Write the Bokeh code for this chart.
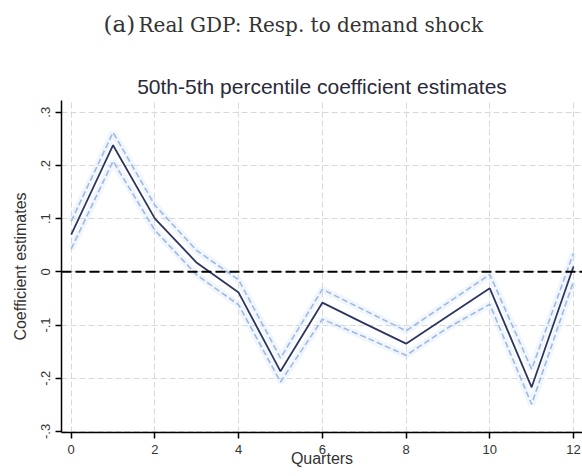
from bokeh.plotting import figure
from bokeh.layouts import column
from bokeh.models import Range1d, FixedTicker, Title, Span
from bokeh.core.properties import value
from bokeh.embed import file_html
from bokeh.resources import INLINE

quarters = list(range(13))
coef = [0.070, 0.238, 0.100, 0.017, -0.039, -0.187, -0.058, -0.097, -0.135, -0.083, -0.031, -0.217, 0.010]
upper = [0.095, 0.262, 0.125, 0.040, -0.015, -0.162, -0.033, -0.072, -0.111, -0.058, -0.005, -0.183, 0.035]
lower = [0.043, 0.208, 0.078, -0.006, -0.062, -0.207, -0.089, -0.122, -0.157, -0.105, -0.061, -0.249, -0.018]
y_ticks = [-0.3, -0.2, -0.1, 0.0, 0.1, 0.2, 0.3]
y_tick_labels = ["-.3", "-.2", "-.1", "0", ".1", ".2", ".3"]
x_ticks = [0, 2, 4, 6, 8, 10, 12]
caption_tag = "(a)"
caption_text = "Real GDP: Resp. to demand shock"

# --- caption strip (panel label); its frame is aligned with the graph frame ---
head = figure(width=582, height=45, output_backend="svg", toolbar_location=None,
              x_range=Range1d(61, 582), y_range=Range1d(0, 45),
              x_axis_type=None, y_axis_type=None,
              min_border_left=61, min_border_right=0,
              min_border_top=0, min_border_bottom=0)
head.outline_line_color = None
head.xgrid.visible = False
head.ygrid.visible = False
head.text(x=[103], y=[22], text=[caption_tag], text_align="left", text_baseline="middle",
          text_font=value("DejaVu Serif"), text_font_size="23px", text_color="#333333")
head.text(x=[138], y=[21], text=[caption_text], text_align="left", text_baseline="middle",
          text_font=value("DejaVu Serif"), text_font_size="20px", text_color="#333333")

# --- main graph ---
p = figure(width=582, height=431, output_backend="svg", toolbar_location=None,
           x_range=Range1d(-0.232, 12.215), y_range=Range1d(-0.302, 0.322),
           min_border_left=61, min_border_right=0, min_border_bottom=44, min_border_top=55)
p.background_fill_color = "white"
p.border_fill_color = "white"
p.outline_line_color = None

p.add_layout(Title(text="50th-5th percentile coefficient estimates", align="center",
                   text_font="Liberation Sans", text_font_size="21px",
                   text_font_style="normal", text_color="#2a2a3a", standoff=6), "above")

# grids
for g in (p.xgrid, p.ygrid):
    g.grid_line_color = "#d9d9d9"
    g.grid_line_dash = "6 3"
    g.grid_line_width = 1
p.xgrid.ticker = FixedTicker(ticks=x_ticks)
p.ygrid.ticker = FixedTicker(ticks=y_ticks)

# zero line
p.add_layout(Span(location=0, dimension="width", line_color="black",
                  line_width=2, line_dash="10 4"))

# bands with a faint glow
p.line(quarters, upper, line_color="#c4dcf7", line_width=7, line_alpha=0.25)
p.line(quarters, lower, line_color="#c4dcf7", line_width=7, line_alpha=0.25)
p.line(quarters, upper, line_color="#a3b8de", line_width=1.6, line_dash="6 3")
p.line(quarters, lower, line_color="#a3b8de", line_width=1.6, line_dash="6 3")
p.line(quarters, coef, line_color="#2d3660", line_width=1.8)

# axes
p.xaxis.ticker = FixedTicker(ticks=x_ticks)
p.yaxis.ticker = FixedTicker(ticks=y_ticks)
p.yaxis.major_label_overrides = {t: l for t, l in zip(y_ticks, y_tick_labels)}
p.yaxis.major_label_orientation = "vertical"
p.xaxis.axis_label = "Quarters"
p.yaxis.axis_label = "Coefficient estimates"
for ax in (p.xaxis[0], p.yaxis[0]):
    ax.axis_line_color = "black"
    ax.axis_line_width = 1.5
    ax.major_tick_line_color = "black"
    ax.major_tick_line_width = 1.5
    ax.major_tick_out = 6
    ax.major_tick_in = 0
    ax.minor_tick_out = 0
    ax.minor_tick_in = 0
    ax.major_label_text_font = "Liberation Sans"
    ax.major_label_text_font_size = "13px"
    ax.major_label_text_color = "#333333"
    ax.axis_label_text_font = "Liberation Sans"
    ax.axis_label_text_font_size = "16px"
    ax.axis_label_text_font_style = "normal"
    ax.axis_label_text_color = "#333333"
p.yaxis.major_label_standoff = 5
p.yaxis.axis_label_standoff = 10
p.xaxis.major_label_standoff = 6
p.xaxis.axis_label_standoff = -7

layout = column(head, p, spacing=0)
open("out.html", "w").write(file_html(layout, INLINE))
